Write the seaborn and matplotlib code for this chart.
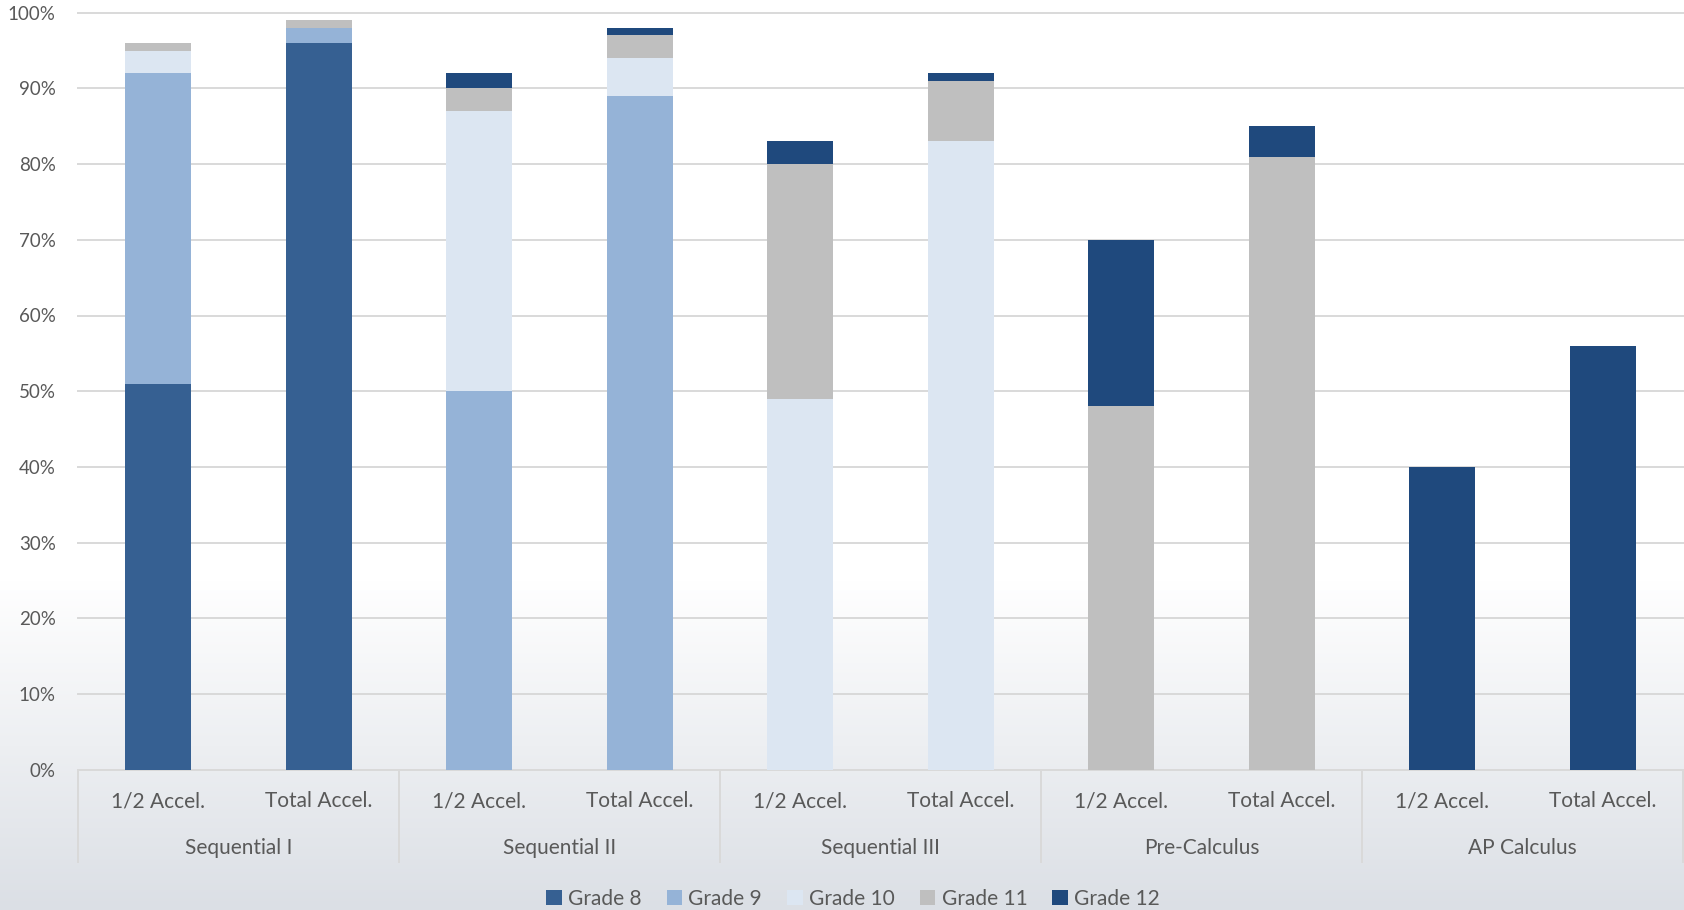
import numpy as np
import pandas as pd
import matplotlib
matplotlib.use("Agg")
import matplotlib.pyplot as plt
import matplotlib.transforms as mtransforms
from matplotlib.colors import to_rgb
from matplotlib.patches import Patch
import seaborn as sns

# ---- data -------------------------------------------------------------
courses = ["Sequential I", "Sequential II", "Sequential III", "Pre-Calculus", "AP Calculus"]
tracks = ["1/2 Accel.", "Total Accel."]
grades = ["Grade 8", "Grade 9", "Grade 10", "Grade 11", "Grade 12"]

# one value per (course, track) slot, in course order, 1/2 then Total
grade8 = [51, 96, 0, 0, 0, 0, 0, 0, 0, 0]
grade9 = [41, 2, 50, 89, 0, 0, 0, 0, 0, 0]
grade10 = [3, 0, 37, 5, 49, 83, 0, 0, 0, 0]
grade11 = [1, 1, 3, 3, 31, 8, 48, 81, 0, 0]
grade12 = [0, 0, 2, 1, 3, 1, 22, 4, 40, 56]

ytick_values = list(range(0, 101, 10))

grade_colors = ["#366092", "#95B3D7", "#DCE6F2", "#BFBFBF", "#1F497D"]
text_color = "#595959"
line_color = "#D9D9D9"

plt.rcParams["font.family"] = ["Lato", "DejaVu Sans"]

W, H = 1684, 910
fig = plt.figure(figsize=(W / 100, H / 100), dpi=100)

# soft white-to-grey background fading in towards the bottom
bg = fig.add_axes([0, 0, 1, 1], zorder=-10)
bg.axis("off")
rows = np.arange(H)
t = np.clip((rows - 580) / (H - 580), 0, 1)
top_c = np.array([1.0, 1.0, 1.0])
bot_c = np.array(to_rgb("#DBDFE5"))
grad = top_c + (bot_c - top_c) * t[:, None]
bg.imshow(np.repeat(grad[:, None, :], 4, axis=1), aspect="auto", extent=[0, 1, 0, 1])

y_top, y_zero = 12.7, 769.7
x_left, x_right = 78, 1683
ax = fig.add_axes([x_left / W, 1 - y_zero / H, (x_right - x_left) / W, (y_zero - y_top) / H])
ax.patch.set_alpha(0)

# ---- stacked bars (cumulative totals drawn back to front) ---------------
slots = [f"{c}\n{t}" for c in courses for t in tracks]
stack = np.array([grade8, grade9, grade10, grade11, grade12])
cum = np.cumsum(stack, axis=0)
for i in reversed(range(len(grades))):
    df = pd.DataFrame({"slot": slots, "value": cum[i]})
    sns.barplot(data=df, x="slot", y="value", order=slots, color=grade_colors[i],
                saturation=1, width=0.41, errorbar=None, linewidth=0, ax=ax, zorder=3)

ax.set_xlim(-0.5, len(slots) - 0.5)
ax.set_ylim(0, 100)
ax.set_xlabel("")
ax.set_ylabel("")
ax.set_yticks(ytick_values)
ax.set_yticklabels([f"{v}%" for v in ytick_values])
ax.tick_params(axis="y", length=0, pad=16, labelsize=13.5, labelcolor=text_color)
ax.tick_params(axis="x", length=0, labelbottom=False)
ax.yaxis.grid(True, color=line_color, linewidth=1.4)
for gl in ax.get_ygridlines():
    gl.set_clip_on(False)
ax.set_axisbelow(True)
for side in ("top", "right", "left"):
    ax.spines[side].set_visible(False)
ax.spines["bottom"].set_color(line_color)
ax.spines["bottom"].set_linewidth(1.4)

# ---- two-level category axis -------------------------------------------
blend = mtransforms.blended_transform_factory(ax.transData, fig.transFigure)
sep_bottom = 1 - 862 / H
for k in range(len(courses) + 1):
    xb = -0.5 + 2 * k
    ax.plot([xb, xb], [1 - y_zero / H, sep_bottom], transform=blend,
            color=line_color, linewidth=1.4, clip_on=False)
for j, s in enumerate(slots):
    ax.text(j, 1 - 801 / H, tracks[j % 2], transform=blend, ha="center", va="center",
            fontsize=15, color=text_color)
for k, c in enumerate(courses):
    ax.text(2 * k + 0.5, 1 - 848 / H, c, transform=blend, ha="center", va="center",
            fontsize=15, color=text_color)

# ---- legend ------------------------------------------------------------
handles = [Patch(facecolor=col, edgecolor="none") for col in grade_colors]
fig.legend(handles, grades, loc="center", bbox_to_anchor=(853 / W, 1 - 899 / H),
           ncol=5, frameon=False, fontsize=15, labelcolor=text_color,
           handlelength=0.75, handleheight=0.75, handletextpad=0.3, columnspacing=1.2)

fig.savefig("out.png", dpi=100)
